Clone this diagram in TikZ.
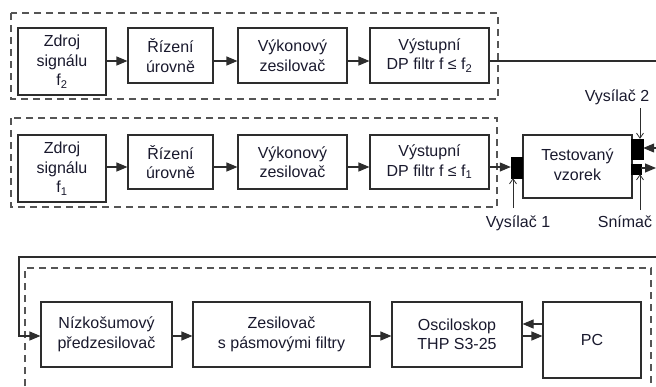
\documentclass[tikz,border=0pt]{standalone}
\usepackage{fontspec}
\setmainfont{Liberation Sans}
\usetikzlibrary{arrows.meta}
\definecolor{linec}{RGB}{45,45,45}
\definecolor{dashc}{RGB}{85,85,85}
\definecolor{textc}{RGB}{25,25,45}
\begin{document}
\begin{tikzpicture}[x=1pt,y=-1pt,
  box/.style={draw=linec, line width=1.1pt, inner sep=0pt, align=center,
    font=\fontsize{16}{19.5}\selectfont, text=textc},
  trans/.style={draw=black, fill=black, inner sep=0pt},
  lab/.style={inner sep=1pt, font=\fontsize{16}{19.5}\selectfont, text=textc},
  conn/.style={draw=linec, line width=1.1pt},
  arr/.style={conn, -{Triangle[length=11pt,width=9pt]}},
  barb/.style={draw=linec, line width=0.8pt, -{Straight Barb[length=5pt,width=7pt]}},
  dbox/.style={draw=dashc, line width=1.1pt, dash pattern=on 7pt off 5pt}
]
\useasboundingbox (0,0) rectangle (656,386);

% dashed groups
\draw[dbox] (11,13) rectangle (498,99);
\draw[dbox] (11,118) rectangle (497,207);
\draw[dbox] (25,386) -- (25,268) -- (651,268) -- (651,386);

% helper coordinates
\coordinate (y1) at (0,61);
\coordinate (y2) at (0,167);
\coordinate (y3) at (0,336);
\coordinate (y4) at (0,324);
\coordinate (e1) at (656,61);
\coordinate (e2) at (656,148);
\coordinate (e3) at (656,168);
\coordinate (e4) at (656,257);
\coordinate (c4) at (19,257);

% row 1
\node[box, minimum width=88pt, minimum height=67pt] (z2) at (62,61.5) {Zdroj\\signálu\\f\textsubscript{2}};
\node[box, minimum width=85pt, minimum height=55pt] (r2) at (170.5,55.5) {Řízení\\úrovně};
\node[box, minimum width=109pt, minimum height=55pt] (v2b) at (292.5,55.5) {Výkonový\\zesilovač};
\node[box, minimum width=119pt, minimum height=55pt] (f2) at (429.5,55.5) {Výstupní\\DP filtr f ≤ f\textsubscript{2}};

% row 2
\node[box, minimum width=88pt, minimum height=67pt] (z1) at (62,168.5) {Zdroj\\signálu\\f\textsubscript{1}};
\node[box, minimum width=85pt, minimum height=54pt] (r1) at (170.5,162) {Řízení\\úrovně};
\node[box, minimum width=109pt, minimum height=54pt] (v1b) at (292.5,162) {Výkonový\\zesilovač};
\node[box, minimum width=119pt, minimum height=54pt] (f1) at (429.5,162) {Výstupní\\DP filtr f ≤ f\textsubscript{1}};

% test sample and transducers
\node[box, minimum width=109pt, minimum height=63pt] (t) at (577.5,166.5) {\raisebox{-4pt}{\begin{tabular}{@{}c@{}}Testovaný\\vzorek\end{tabular}}};
\node[trans, minimum width=11pt, minimum height=21pt] (v1) at (516.5,167.5) {};
\node[trans, minimum width=12pt, minimum height=20pt] (v2) at (637,149) {};
\node[trans, minimum width=10pt, minimum height=10pt] (sn) at (636,169) {};

\node[lab] (l1) at (518,223) {Vysílač 1};
\node[lab] (l2) at (617,97) {Vysílač 2};
\node[lab] (l3) at (625,222) {Snímač};

\coordinate (v1t) at (513,208);
\coordinate (v2t) at (640,108);
\coordinate (snt) at (640,210);
\draw[barb] (v1t) -- (v1t |- v1.south);
\draw[barb] (v2t) -- (v2t |- v2.north);
\draw[barb] (snt) -- (snt |- sn.south);

% bottom row
\node[box, minimum width=131pt, minimum height=65pt] (n) at (106.5,334.5) {Nízkošumový\\předzesilovač};
\node[box, minimum width=177pt, minimum height=65pt] (zs) at (281.5,334.5) {Zesilovač\\s pásmovými filtry};
\node[box, minimum width=130pt, minimum height=65pt] (o) at (457,334.5) {Osciloskop\\THP S3-25};
\node[box, minimum width=98pt, minimum height=76pt] (pc) at (592,340) {PC};

% connectors row 1
\draw[arr] (z2.east |- y1) -- (r2.west |- y1);
\draw[arr] (r2.east |- y1) -- (v2b.west |- y1);
\draw[arr] (v2b.east |- y1) -- (f2.west |- y1);
\draw[conn] (f2.east |- y1) -- (e1);

% connectors row 2
\draw[arr] (z1.east |- y2) -- (r1.west |- y2);
\draw[arr] (r1.east |- y2) -- (v1b.west |- y2);
\draw[arr] (v1b.east |- y2) -- (f1.west |- y2);
\draw[arr] (f1.east |- y2) -- (v1.west |- y2);

% right edge
\draw[arr] (e2) -- (v2.east |- e2);
\draw[arr] (sn.east |- e3) -- (e3);

% bottom connectors
\draw[arr] (e4) -- (c4) |- (n.west |- y3);
\draw[arr] (n.east |- y3) -- (zs.west |- y3);
\draw[arr] (zs.east |- y3) -- (o.west |- y3);
\draw[arr] (o.east |- y3) -- (pc.west |- y3);
\draw[arr] (pc.west |- y4) -- (o.east |- y4);
\end{tikzpicture}
\end{document}
